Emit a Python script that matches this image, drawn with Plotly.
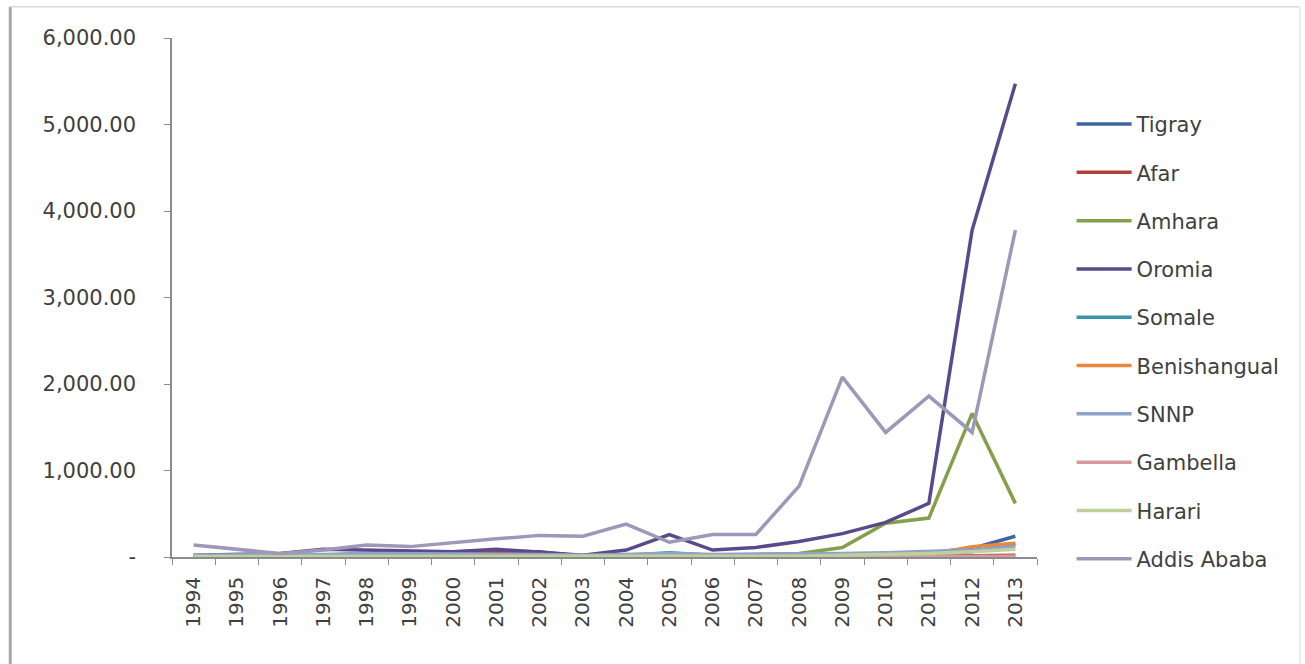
import plotly.graph_objects as go

# Years on the category axis
years = [str(y) for y in range(1994, 2014)]

# Values per region, 1994-2013
tigray = [10, 10, 15, 20, 20, 15, 15, 20, 20, 10, 15, 20, 20, 20, 25, 30, 40, 50, 100, 240]
afar = [5, 5, 10, 20, 40, 60, 60, 70, 60, 10, 5, 5, 5, 5, 5, 5, 5, 10, 15, 20]
amhara = [10, 15, 20, 30, 30, 20, 20, 30, 20, 15, 15, 20, 20, 30, 40, 110, 390, 450, 1660, 620]
oromia = [20, 30, 40, 90, 80, 80, 60, 90, 60, 20, 80, 260, 80, 110, 180, 270, 400, 620, 3780, 5470]
somale = [5, 5, 5, 5, 5, 5, 5, 5, 5, 5, 20, 50, 20, 10, 10, 10, 20, 30, 60, 150]
benishangual = [5, 5, 5, 5, 5, 5, 5, 5, 5, 10, 10, 10, 10, 10, 10, 10, 20, 30, 120, 160]
snnp = [20, 20, 20, 30, 40, 40, 30, 30, 30, 20, 30, 40, 30, 30, 30, 40, 50, 70, 80, 120]
gambella = [3, 3, 3, 3, 3, 3, 3, 3, 3, 3, 3, 3, 3, 3, 3, 5, 5, 5, 10, 10]
harari = [5, 5, 5, 5, 5, 5, 5, 5, 5, 5, 5, 5, 5, 10, 10, 20, 30, 40, 60, 90]
addis_ababa = [140, 90, 40, 80, 140, 120, 170, 210, 250, 240, 380, 170, 260, 260, 820, 2080, 1440, 1860, 1440, 3780]

region_names = ["Tigray", "Afar", "Amhara", "Oromia", "Somale", "Benishangual",
                "SNNP", "Gambella", "Harari", "Addis Ababa"]
region_values = [tigray, afar, amhara, oromia, somale, benishangual,
                 snnp, gambella, harari, addis_ababa]
region_colors = ["#3F64A0", "#B0403D", "#84A04B", "#5B4A8B", "#3595AE", "#E9873A",
                 "#8FA2C9", "#D79A9C", "#BFD19B", "#9E97B8"]

# Y axis ticks (zero shown as a dash, accounting style)
y_tickvals = [0, 1000, 2000, 3000, 4000, 5000, 6000]
y_ticktext = ["-", "1,000.00", "2,000.00", "3,000.00", "4,000.00", "5,000.00", "6,000.00"]

FONT = "DejaVu Sans"
TEXT = "#404040"
AXIS = "#8C8C8C"

fig = go.Figure()
for i, (name, vals, col) in enumerate(zip(region_names, region_values, region_colors)):
    fig.add_trace(go.Scatter(
        x=years, y=vals, name=name, mode="lines",
        line=dict(color=col, width=3.5),
        legendgroup=f"g{i}",
    ))

# Outer frame of the chart area
fig.add_shape(type="line", xref="paper", yref="paper",
              x0=-0.187, x1=-0.187, y0=-0.21, y1=1.06,
              line=dict(color="#A6A6A6", width=3))
fig.add_shape(type="line", xref="paper", yref="paper",
              x0=-0.187, x1=1.304, y0=1.06, y1=1.06,
              line=dict(color="#D9D9D9", width=1.5))
fig.add_shape(type="line", xref="paper", yref="paper",
              x0=1.304, x1=1.304, y0=-0.21, y1=1.06,
              line=dict(color="#E6E6E6", width=1.5))

fig.update_layout(
    width=1305, height=664,
    margin=dict(l=172, r=268, t=38, b=107),
    paper_bgcolor="white", plot_bgcolor="white",
    font=dict(family=FONT, size=20, color=TEXT),
    showlegend=True,
    legend=dict(
        x=1.04, y=0.873, xanchor="left", yanchor="top",
        font=dict(family=FONT, size=21, color=TEXT),
        itemwidth=55, tracegroupgap=18,
        bgcolor="rgba(0,0,0,0)",
    ),
    xaxis=dict(
        type="category", tickangle=-90,
        showline=True, linecolor=AXIS, linewidth=1.5,
        ticks="outside", ticklen=6, tickcolor=AXIS, tickson="boundaries",
        showgrid=False, zeroline=False,
        tickfont=dict(family=FONT, size=20, color=TEXT),
        ticklabelstandoff=10,
        range=[-0.5, 19.5],
    ),
    yaxis=dict(
        range=[0, 6000],
        tickvals=y_tickvals, ticktext=y_ticktext,
        showline=True, linecolor=AXIS, linewidth=1.5,
        ticks="outside", ticklen=6, tickcolor=AXIS,
        showgrid=False, zeroline=False,
        tickfont=dict(family=FONT, size=21, color=TEXT),
        ticklabelstandoff=24,
    ),
)

fig.write_html("out.html")
